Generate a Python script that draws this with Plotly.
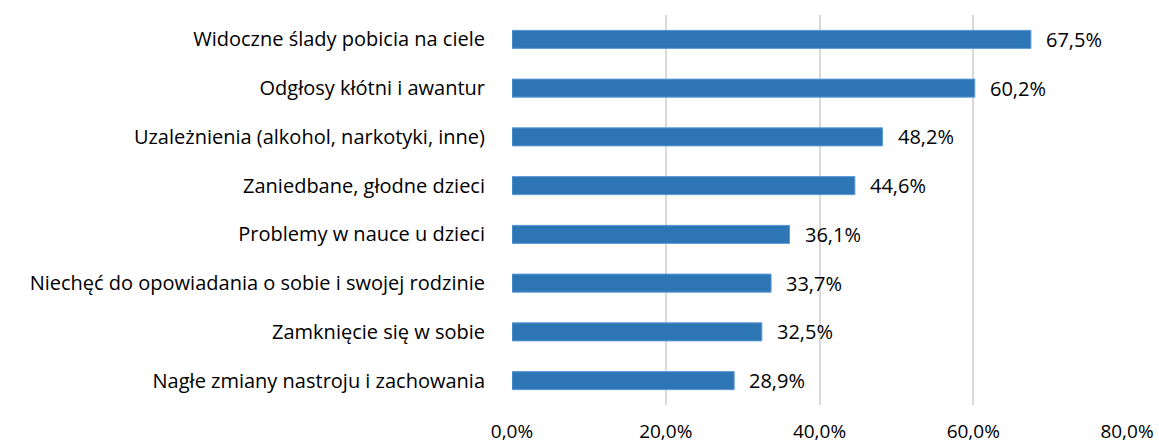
import plotly.graph_objects as go

categories = [
    "Widoczne ślady pobicia na ciele",
    "Odgłosy kłótni i awantur",
    "Uzależnienia (alkohol, narkotyki, inne)",
    "Zaniedbane, głodne dzieci",
    "Problemy w nauce u dzieci",
    "Niechęć do opowiadania o sobie i swojej rodzinie",
    "Zamknięcie się w sobie",
    "Nagłe zmiany nastroju i zachowania",
]
values = [67.5, 60.2, 48.2, 44.6, 36.1, 33.7, 32.5, 28.9]
tick_vals = [0, 20, 40, 60, 80]
tick_text = ["0,0%", "20,0%", "40,0%", "60,0%", "80,0%"]

FONT = "Open Sans"
FS = 20
fig = go.Figure(go.Bar(
    y=categories, x=values, orientation="h",
    marker=dict(color="#2E75B6", line=dict(color="#5B9BD5", width=1)),
    width=0.37,
))
for c, v in zip(categories, values):
    fig.add_annotation(x=v, y=c, text=f"{v:.1f}%".replace(".", ","), showarrow=False,
                       xanchor="left", xshift=13, font=dict(size=FS, color="#000000", family=FONT))

fig.update_layout(
    width=1159, height=446,
    margin=dict(l=512, r=32, t=15, b=41),
    paper_bgcolor="white", plot_bgcolor="white",
    showlegend=False,
    font=dict(family=FONT, size=FS, color="#000000"),
    xaxis=dict(range=[0, 80], tickvals=tick_vals, ticktext=tick_text, automargin=False,
               showgrid=True, gridcolor="#D9D9D9", gridwidth=1.5, zeroline=False,
               showline=False, ticks="outside", ticklen=9, tickcolor="rgba(0,0,0,0)",
               tickfont=dict(size=19)),
    yaxis=dict(autorange="reversed", showgrid=False, zeroline=False, showline=False,
               automargin=False,
               ticks="outside", ticklen=22, tickcolor="rgba(0,0,0,0)",
               tickfont=dict(size=FS)),
)
fig.write_html(
    "out.html",
    config={"displayModeBar": False},
    post_script="document.body.style.margin='0';document.body.style.padding='0';document.body.style.overflow='hidden';",
)
